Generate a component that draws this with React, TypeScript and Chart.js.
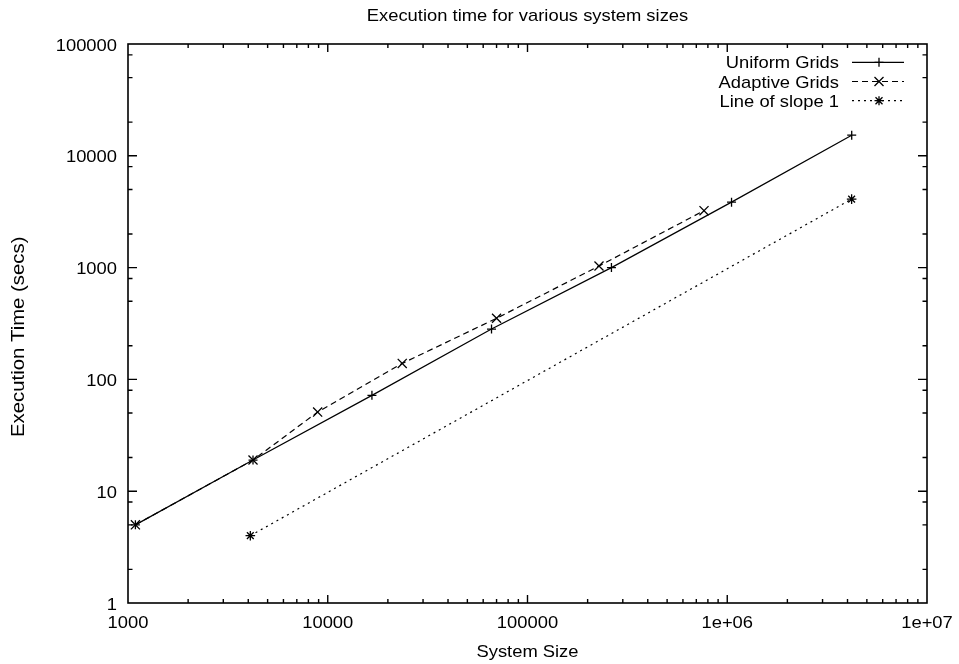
import React, { useEffect, useRef } from "react";
import { Chart, registerables } from "chart.js";

Chart.register(...registerables);

// ---- data ----
const uniformSizes = [1089, 4225, 16641, 66049, 263169, 1050625, 4198401];
const uniformTimes = [5, 19, 72, 282, 1000, 3850, 15300];
const adaptiveSizes = [1089, 4225, 8900, 23600, 70000, 228000, 765000];
const adaptiveTimes = [5, 19, 51, 139, 352, 1033, 3230];
const slopeSizes = [4096, 4194304];
const slopeTimes = [4, 4096];

const xTickValues = [1000, 10000, 100000, 1000000, 10000000];
const xTickLabels = ["1000", "10000", "100000", "1e+06", "1e+07"];
const yTickValues = [1, 10, 100, 1000, 10000, 100000];
const yTickLabels = ["1", "10", "100", "1000", "10000", "100000"];
const xMinorMultipliers = [2, 3, 4, 5, 6, 7, 8, 9];
const yMinorMultipliers = [2, 5, 8];

const seriesNames = ["Uniform Grids", "Adaptive Grids", "Line of slope 1"];
const titleText = "Execution time for various system sizes";
const xTitleText = "System Size";
const yTitleText = "Execution Time (secs)";

const FONT = "'Liberation Sans', Arial, Helvetica, sans-serif";
const SX = 1.08;

const toPoints = (xs: number[], ys: number[]) => xs.map((x, i) => ({ x, y: ys[i] }));

function drawText(
  ctx: CanvasRenderingContext2D,
  text: string,
  x: number,
  y: number,
  align: CanvasTextAlign,
  size = 17,
  sx = SX,
  rotate = 0
) {
  ctx.save();
  ctx.translate(x, y);
  if (rotate) ctx.rotate(rotate);
  ctx.scale(sx, 1);
  ctx.font = `${size}px ${FONT}`;
  ctx.fillStyle = "#000";
  ctx.textAlign = align;
  ctx.textBaseline = "alphabetic";
  ctx.fillText(text, 0, 0);
  ctx.restore();
}

function drawMarker(ctx: CanvasRenderingContext2D, style: string, x: number, y: number) {
  ctx.beginPath();
  const r = 4.5;
  const d = 4.5;
  if (style === "cross" || style === "star") {
    ctx.moveTo(x - r, y);
    ctx.lineTo(x + r, y);
    ctx.moveTo(x, y - r);
    ctx.lineTo(x, y + r);
  }
  if (style === "crossRot" || style === "star") {
    const k = style === "star" ? 3.5 : d;
    ctx.moveTo(x - k, y - k);
    ctx.lineTo(x + k, y + k);
    ctx.moveTo(x - k, y + k);
    ctx.lineTo(x + k, y - k);
  }
  ctx.stroke();
}

const gnuplotPlugin = {
  id: "gnuplotDecor",
  afterDraw(chart: any) {
    const ctx: CanvasRenderingContext2D = chart.ctx;
    const { left, right, top, bottom } = chart.chartArea;
    const xs = chart.scales.x;
    const ys = chart.scales.y;
    ctx.save();
    ctx.strokeStyle = "#000";
    ctx.setLineDash([]);

    // ticks on x (bottom + mirrored top)
    ctx.lineWidth = 1.4;
    xTickValues.forEach((v, i) => {
      const px = xs.getPixelForValue(v);
      if (px > left + 1 && px < right - 1) {
        ctx.beginPath();
        ctx.moveTo(px, bottom);
        ctx.lineTo(px, bottom - 8);
        ctx.moveTo(px, top);
        ctx.lineTo(px, top + 8);
        ctx.stroke();
      }
      if (i < xTickValues.length - 1) {
        xMinorMultipliers.forEach((m) => {
          const mx = xs.getPixelForValue(v * m);
          ctx.beginPath();
          ctx.moveTo(mx, bottom);
          ctx.lineTo(mx, bottom - 4);
          ctx.moveTo(mx, top);
          ctx.lineTo(mx, top + 4);
          ctx.stroke();
        });
      }
      drawText(ctx, xTickLabels[i], px, 628, "center");
    });

    // ticks on y (left + mirrored right)
    yTickValues.forEach((v, i) => {
      const py = ys.getPixelForValue(v);
      if (py > top + 1 && py < bottom - 1) {
        ctx.beginPath();
        ctx.moveTo(left, py);
        ctx.lineTo(left + 9, py);
        ctx.moveTo(right, py);
        ctx.lineTo(right - 9, py);
        ctx.stroke();
      }
      if (i < yTickValues.length - 1) {
        yMinorMultipliers.forEach((m) => {
          const my = ys.getPixelForValue(v * m);
          ctx.beginPath();
          ctx.moveTo(left, my);
          ctx.lineTo(left + 4.5, my);
          ctx.moveTo(right, my);
          ctx.lineTo(right - 4.5, my);
          ctx.stroke();
        });
      }
      drawText(ctx, yTickLabels[i], 117, py + 6.5, "right");
    });

    // border
    ctx.lineWidth = 1.6;
    ctx.strokeRect(left, top, right - left, bottom - top);

    // titles
    const cx = (left + right) / 2;
    drawText(ctx, titleText, cx, 21, "center");
    drawText(ctx, xTitleText, cx, 657, "center");
    drawText(ctx, yTitleText, 24, 437, "left", 18, 1.13, -Math.PI / 2);

    // legend
    const styles = ["cross", "crossRot", "star"];
    const dashes = [[], [6, 4], [2, 4]];
    seriesNames.forEach((name, i) => {
      const ly = 62.3 + 19.2 * i;
      drawText(ctx, name, 839, ly + 6, "right");
      ctx.lineWidth = 1.2;
      ctx.setLineDash(dashes[i]);
      ctx.beginPath();
      ctx.moveTo(852, ly);
      ctx.lineTo(904, ly);
      ctx.stroke();
      ctx.setLineDash([]);
      ctx.lineWidth = 1.3;
      drawMarker(ctx, styles[i], 879, ly);
    });

    ctx.restore();
  },
};

export default function App() {
  const canvasRef = useRef<HTMLCanvasElement | null>(null);

  useEffect(() => {
    if (!canvasRef.current) return;
    const common = {
      borderColor: "#000",
      borderWidth: 1.2,
      pointBorderColor: "#000",
      pointBackgroundColor: "#000",
      pointBorderWidth: 1.3,
      fill: false,
      tension: 0,
    };
    const chart = new Chart(canvasRef.current, {
      type: "line",
      data: {
        datasets: [
          {
            ...common,
            label: seriesNames[0],
            data: toPoints(uniformSizes, uniformTimes),
            pointStyle: "cross",
            pointRadius: 4.5,
          },
          {
            ...common,
            label: seriesNames[1],
            data: toPoints(adaptiveSizes, adaptiveTimes),
            borderDash: [6, 4],
            pointStyle: "crossRot",
            pointRadius: 6.4,
          },
          {
            ...common,
            label: seriesNames[2],
            data: toPoints(slopeSizes, slopeTimes),
            borderDash: [2, 4],
            pointStyle: "star",
            pointRadius: 4.8,
          },
        ],
      } as any,
      options: {
        responsive: false,
        animation: false,
        devicePixelRatio: 1,
        layout: { padding: { left: 128, top: 44, right: 32, bottom: 61 } },
        plugins: {
          legend: { display: false },
          title: { display: false },
          tooltip: { enabled: false },
        },
        scales: {
          x: {
            type: "logarithmic",
            min: 1000,
            max: 10000000,
            ticks: { display: false },
            grid: { display: false },
            border: { display: false },
            afterFit: (s: any) => {
              s.height = 0;
            },
          },
          y: {
            type: "logarithmic",
            min: 1,
            max: 100000,
            ticks: { display: false },
            grid: { display: false },
            border: { display: false },
            afterFit: (s: any) => {
              s.width = 0;
            },
          },
        },
      } as any,
      plugins: [gnuplotPlugin],
    });
    return () => chart.destroy();
  }, []);

  return (
    <div style={{ position: "absolute", left: 0, top: 0, width: 959, height: 664, background: "#fff" }}>
      <canvas ref={canvasRef} width={959} height={664} style={{ display: "block" }} />
    </div>
  );
}
